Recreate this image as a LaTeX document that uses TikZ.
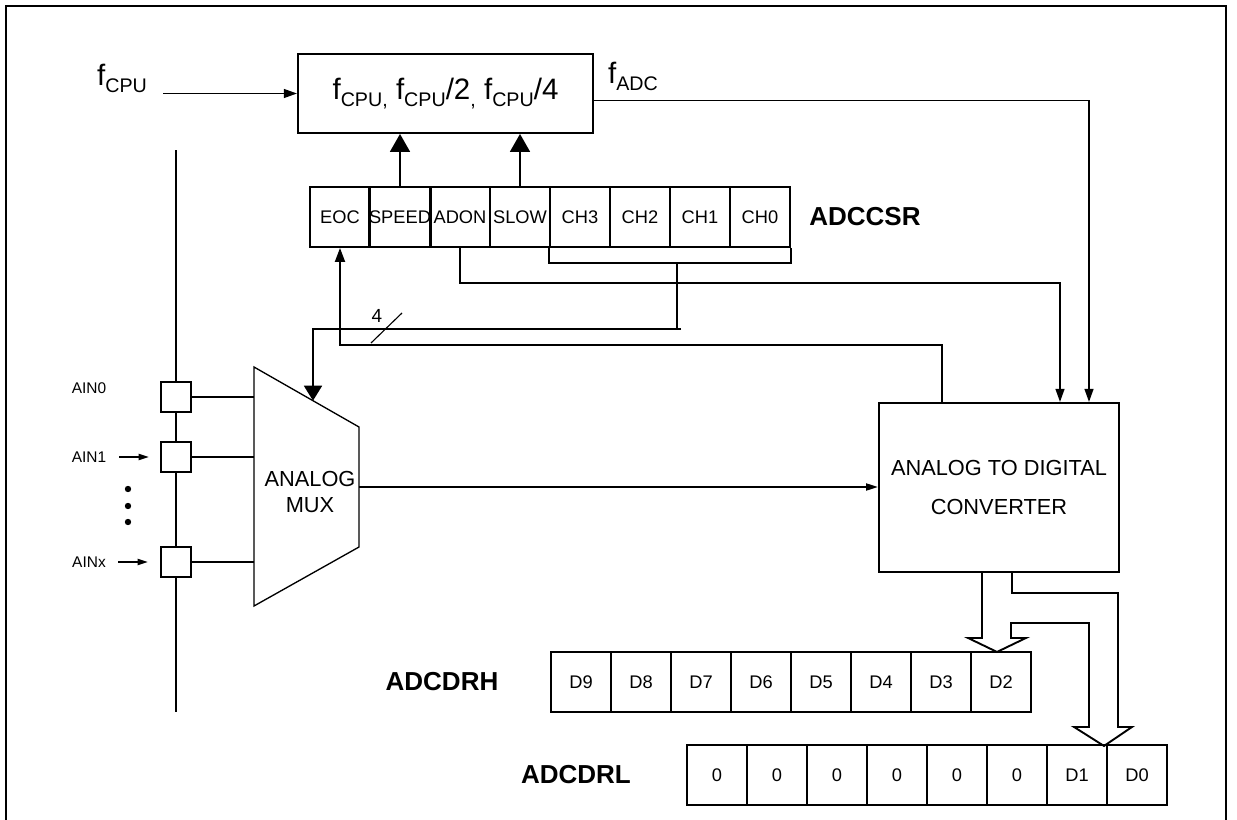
\documentclass[tikz,border=0pt]{standalone}
\usepackage{fontspec}
\setmainfont{Liberation Sans}
\usetikzlibrary{arrows.meta,positioning}
% lowered subscript as printed in the clock labels
\newcommand{\clksub}[1]{\raisebox{-5pt}{\fontsize{14}{14}\selectfont #1}}

\begin{document}
\begin{tikzpicture}[
        x=0.25mm, y=-0.25mm,
        every node/.style={font=\fontsize{13}{14}\selectfont, inner sep=0pt},
        wire/.style={line width=1.35pt, draw=black},
        arrow/.style={wire, -{Triangle[width=2.2mm, length=3.3mm]}},
        bigarrow/.style={wire, -{Triangle[width=5mm, length=4.5mm]}},
        selarrow/.style={wire, -{Triangle[width=4.5mm, length=3.75mm]}},
        smallarrow/.style={wire, -{Triangle[width=1.5mm, length=2.6mm]}},
        bitcell/.style={rectangle, draw=black, line width=1.35pt, minimum width=15mm, minimum height=15mm},
        block/.style={rectangle, draw=black, line width=1.35pt, align=center},
        pad/.style={rectangle, draw=black, line width=1.35pt, fill=white, minimum size=7.5mm},
        regname/.style={font=\bfseries\fontsize{18.5}{20}\selectfont},
        pinname/.style={font=\fontsize{11}{12}\selectfont},
        clklabel/.style={font=\fontsize{21}{22}\selectfont}
        ]
        \useasboundingbox (0,0) rectangle (1237,820);

        % outer frame, open at the bottom
        \draw[line width=1.9pt] (6,820) -- (6,6) -- (1226,6) -- (1226,820);

        % clock prescaler
        \node[block, clklabel, minimum width=73.75mm, minimum height=19.75mm] (presc) at (445.5,93.5)
            {f\clksub{CPU,} f\clksub{CPU}/2\clksub{,} f\clksub{CPU}/4};
        \node[clklabel] (fcpu) at (122,78) {f\clksub{CPU}};
        \coordinate (fcpuin) at (163,93.5);
        \node[clklabel] (fadc) at (633,76) {f\clksub{ADC}};

        % ADCCSR control/status register
        \foreach \lbl [count=\i] in {EOC, SPEED, ADON, SLOW, CH3, CH2, CH1, CH0}
            \node[bitcell] (csr\i) at ({280+60*\i},217) {\lbl};
        \node[regname] (csrname) at (865,217) {ADCCSR};

        % data registers
        \foreach \lbl [count=\i] in {D9, D8, D7, D6, D5, D4, D3, D2}
            \node[bitcell] (drh\i) at ({521+60*\i},682) {\lbl};
        \node[regname] (drhname) at (442,682) {ADCDRH};
        \foreach \lbl [count=\i] in {0, 0, 0, 0, 0, 0, D1, D0}
            \node[bitcell] (drl\i) at ({657+60*\i},775) {\lbl};
        \node[regname] (drlname) at (576,775) {ADCDRL};

        % converter
        \node[block, minimum width=60mm, minimum height=42.25mm, font=\fontsize{15.5}{28}\selectfont] (adc) at (999,487.5)
            {ANALOG TO DIGITAL\\CONVERTER};

        % analog multiplexer
        \coordinate (muxtl) at (254,367);
        \coordinate (muxtr) at (359,427);
        \coordinate (muxbr) at (359,547);
        \coordinate (muxbl) at (254,606);
        \draw[line width=0.95pt] (muxtl) -- (muxtr) -- (muxbr) -- (muxbl) -- cycle;
        \node[font=\fontsize{15.5}{18}\selectfont, align=center] (mux) at (310,492) {ANALOG\\MUX};
        \coordinate (muxout) at (359,487);
        \coordinate (muxsel) at (313,400.7);

        % input pins
        \coordinate (bustop) at (176,150);
        \coordinate (busbot) at (176,712);
        \draw[wire] (bustop) -- (busbot);
        \node[pad] (ain0) at (176,397) {};
        \node[pad] (ain1) at (176,457) {};
        \node[pad] (ainx) at (176,562) {};
        \node[pinname] (ain0name) at (89,388) {AIN0};
        \node[pinname] (ain1name) at (89,457) {AIN1};
        \node[pinname] (ainxname) at (89,562) {AINx};
        \draw[smallarrow, shorten <=3.25mm, shorten >=2.75mm] (ain1name.east) -- (ain1.west);
        \draw[smallarrow, shorten <=3mm, shorten >=3mm] (ainxname.east) -- (ainx.west);
        \foreach \dy in {489, 506, 522}
            \fill (128,\dy) circle (0.8mm);
        \foreach \pin in {ain0, ain1, ainx}
            \draw[wire] (\pin.east) -- (\pin.east -| muxtl);

        % clock path
        \draw[arrow] (fcpuin) -- (presc.west);
        \draw[bigarrow] (csr2.north) -- (csr2.north |- presc.south);
        \draw[bigarrow] (csr4.north) -- (csr4.north |- presc.south);
        \draw[arrow] ([yshift=-1.75mm]presc.east) -| ([xshift=22.5mm]adc.north);

        % control lines
        \draw[arrow] (csr3.south) -- ++(0,35) -| ([xshift=15.25mm]adc.north);
        \draw[wire, -{Triangle[width=2.5mm, length=3.5mm]}] ([xshift=-14.25mm]adc.north) -- ++(0,-57) -| (csr1.south);

        % channel select bus
        \draw[wire] (csr5.south west) -- ++(0,15) -| (csr8.south east);
        \coordinate (chtap) at (677,262);
        \draw[wire] (chtap) -- ++(0,67) coordinate (chbend);
        \draw[selarrow] ([xshift=1mm]chbend) -| (muxsel);
        \node[font=\fontsize{13.5}{14}\selectfont] (buswidth) at (377,316) {4};
        \draw[line width=0.8pt] (371,343) -- (402,313);

        % analog signal into the converter
        \draw[wire, -{Triangle[width=1.75mm, length=3mm]}] (muxout) -- (muxout -| adc.west);

        % result transfer to the data registers
        \draw[wire, line join=miter] ([xshift=-4.25mm]adc.south) -- ++(0,65) -- ++(-14,0) -- ++(29,14)
            -- ++(29,-14) -- ++(-15,0) -- ++(0,-15) -- ++(78,0) -- ++(0,104) -- ++(-15,0) -- ++(30,19)
            -- ++(28,-19) -- ++(-14,0) -- ++(0,-134) -- ++(-106,0) -- ++(0,-20);
\end{tikzpicture}
\end{document}
